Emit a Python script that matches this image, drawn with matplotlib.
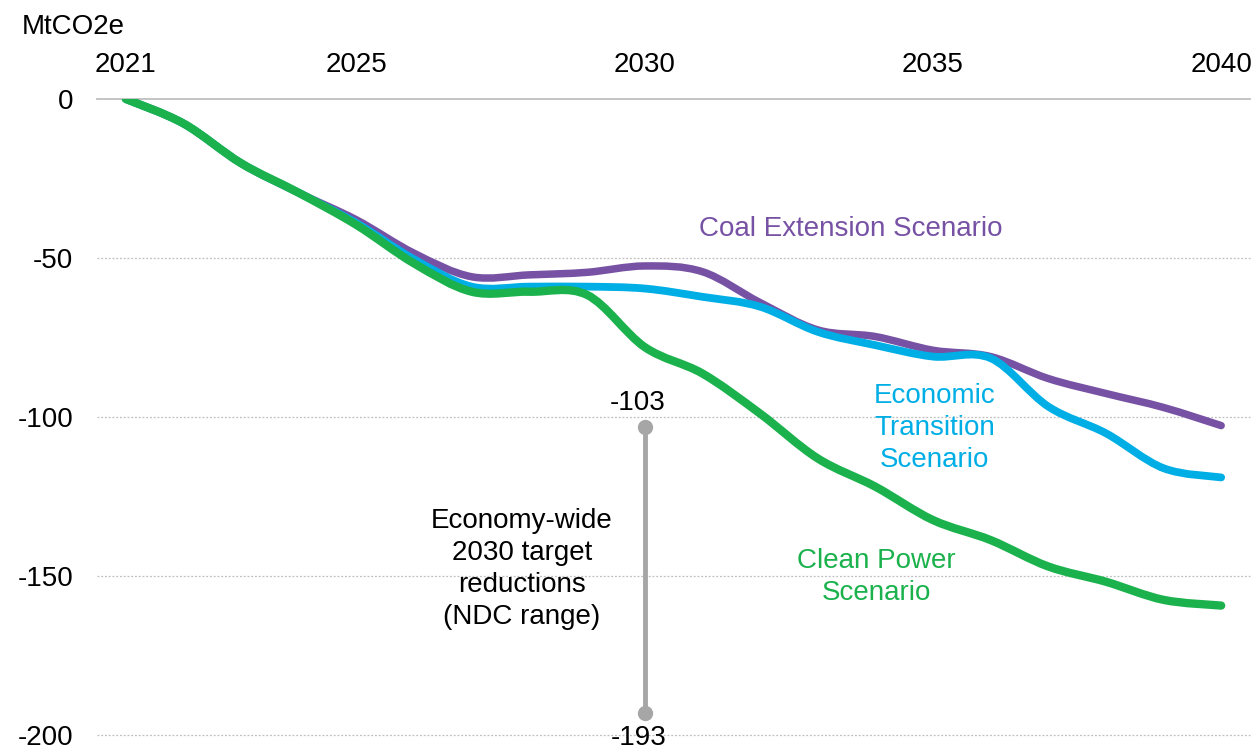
import numpy as np
import matplotlib
matplotlib.use('Agg')
import matplotlib.pyplot as plt
from matplotlib.path import Path
from matplotlib.patches import PathPatch

# Data (MtCO2e change vs 2021)
years = list(range(2021, 2041))
coal_extension = [0, -7.7, -20.2, -29.5, -38.0, -48.5, -55.9, -55.3, -54.5, -52.5,
                  -54.3, -64.0, -72.6, -74.7, -79.0, -81.0, -87.9, -92.6, -97.0, -102.7]
economic_transition = [0, -7.7, -20.2, -29.5, -39.0, -50.4, -59.0, -59.0, -59.0, -59.6,
                       -62.2, -65.3, -73.2, -77.4, -81.0, -81.5, -96.7, -105.1, -116.1, -119.0]
clean_power = [0, -7.7, -20.2, -29.5, -39.6, -51.7, -60.6, -60.6, -61.6, -78.0,
               -86.3, -98.9, -113.0, -121.9, -132.4, -138.7, -147.0, -151.8, -157.5, -159.3]
ndc_year = 2030
ndc_high = -103
ndc_low = -193
x_ticks = [2021, 2025, 2030, 2035, 2040]
y_ticks = [0, -50, -100, -150, -200]

purple = '#7752A4'
cyan = '#00AEE6'
green = '#1BB24D'
grey = '#A6A6A6'

plt.rcParams['font.family'] = ['Liberation Sans', 'DejaVu Sans']


def smooth_path(x, y):
    # Catmull-Rom segments turned into cubic Bezier curves (like Excel's smoothed line)
    pts = np.column_stack([x, y]).astype(float)
    n = len(pts)
    verts = [pts[0]]
    codes = [Path.MOVETO]
    for i in range(n - 1):
        p0 = pts[i - 1] if i > 0 else pts[i]
        p1 = pts[i]
        p2 = pts[i + 1]
        p3 = pts[i + 2] if i + 2 < n else pts[i + 1]
        verts += [p1 + (p2 - p0) / 6, p2 - (p3 - p1) / 6, p2]
        codes += [Path.CURVE4] * 3
    return Path(verts, codes)


fig = plt.figure(figsize=(12.52, 7.49), dpi=100)
ax = fig.add_axes([0.0775, 0.0187, 0.9209, 0.8491])

for series, color, lw in [(coal_extension, purple, 5.4),
                          (economic_transition, cyan, 5.6),
                          (clean_power, green, 6.0)]:
    ax.add_patch(PathPatch(smooth_path(years, series), fill=False, edgecolor=color,
                           linewidth=lw, capstyle='round', joinstyle='round', zorder=3))

# NDC range
ax.plot([ndc_year, ndc_year], [ndc_high, ndc_low], color=grey, linewidth=3.5,
        marker='o', markersize=10, zorder=4, clip_on=False)
ax.text(ndc_year - 0.12, ndc_high + 7.5, str(ndc_high), ha='center', va='center', fontsize=20)
ax.text(ndc_year - 0.1, ndc_low - 7.9, str(ndc_low), ha='center', va='center', fontsize=20,
        clip_on=False)
ax.text(2027.87, -147.8, 'Economy-wide\n2030 target\nreductions\n(NDC range)',
        ha='center', va='center', fontsize=20, linespacing=1.3)

# series labels
ax.text(2033.57, -40.9, 'Coal Extension Scenario', color=purple, ha='center',
        va='center', fontsize=20)
ax.text(2035.03, -103.5, 'Economic\nTransition\nScenario', color=cyan, ha='center',
        va='center', fontsize=20, linespacing=1.3)
ax.text(2034.02, -150.3, 'Clean Power\nScenario', color=green, ha='center',
        va='center', fontsize=20, linespacing=1.3)

ax.set_xlim(2020.5, 2040.5)
ax.set_ylim(-200, 0)
ax.set_xticks(x_ticks)
ax.set_yticks(y_ticks)
ax.set_yticklabels([str(v) for v in y_ticks])
ax.xaxis.tick_top()
ax.tick_params(axis='x', length=0, pad=15, labelsize=20)
ax.tick_params(axis='y', length=0, pad=17, labelsize=20)

for side in ['left', 'right', 'bottom']:
    ax.spines[side].set_visible(False)
ax.spines['top'].set_color('#BFBFBF')
ax.spines['top'].set_linewidth(1.3)

for v in y_ticks[1:]:
    ax.axhline(v, color='#BFBFBF', linewidth=0.9, linestyle=(0, (1.5, 1.5)), zorder=1,
               clip_on=False)

fig.text(22 / 1252, 1 - 27 / 749, 'MtCO2e', ha='left', va='center', fontsize=20)

fig.savefig('out.png', dpi=100)
